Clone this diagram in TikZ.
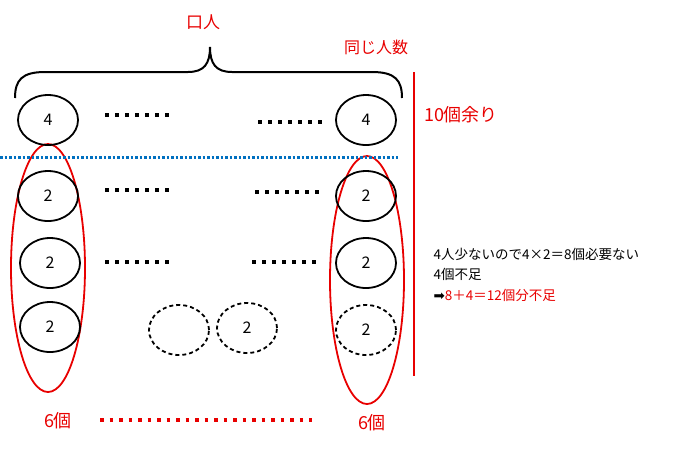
\documentclass[tikz,border=0pt]{standalone}
\usepackage{fontspec}
\setmainfont{Noto Sans CJK JP}
\newfontfamily\symfont{DejaVu Sans}
\usetikzlibrary{shapes.geometric, positioning}
\definecolor{markred}{RGB}{232,0,0}
\definecolor{markblue}{RGB}{0,112,192}
\tikzstyle{ball} = [ellipse, draw, line width=1.8pt, minimum width=60pt, minimum height=50pt, inner sep=0pt, font=\fontsize{16}{16}\selectfont]
\tikzstyle{ghost} = [ball, dash pattern=on 4pt off 3pt]
\tikzstyle{group} = [ellipse, draw=markred, line width=1.8pt, minimum width=74pt, minimum height=248pt]
\tikzstyle{dots} = [line width=3.5pt, dash pattern=on 3.5pt off 6.5pt]
\tikzstyle{redtext} = [text=markred, font=\fontsize{17}{17}\selectfont]
\tikzstyle{note} = [anchor=west, inner ysep=4pt, font=\fontsize{13.5}{13.5}\selectfont]

\begin{document}
\begin{tikzpicture}[x=1pt, y=-1pt]
        \useasboundingbox (0,0) rectangle (678,451);
        % groups of 6
        \node[group] (lgroup) at (48,268) {};
        \node[group] (rgroup) at (367,280) {};
        % top row
        \node[ball] (a1) at (48,120) {4};
        \node[ball] (a2) at (366,120) {4};
        % rows of 2
        \node[ball] (b1) at (48,196) {2};
        \node[ball] (b2) at (366,196) {2};
        \node[ball] (c1) at (50,263) {2};
        \node[ball] (c2) at (366,263) {2};
        \node[ball] (d1) at (50,327) {2};
        \node[ghost] (d2) at (179,330) {};
        \node[ghost] (d3) at (247,328) {2};
        \node[ghost] (d4) at (366,330) {2};
        % dotted gaps
        \draw[dots] (105,115) -- (175,115);
        \draw[dots] (258,122) -- (328,122);
        \draw[dots] (105,190) -- (175,190);
        \draw[dots] (255,192) -- (325,192);
        \draw[dots] (105,262) -- (175,262);
        \draw[dots] (252,262) -- (322,262);
        \draw[dots, markred, line width=3.5pt, dash pattern=on 3.5pt off 6pt] (100,420) -- (312,420);
        \draw[markblue, line width=3pt, dash pattern=on 2.5pt off 2pt] (0,157) -- (398,157);
        % brace
        \draw[line width=2pt] (15,98) .. controls (15,80) and (22,72) .. (45,72) -- (188,72)
            .. controls (204,72) and (210,64) .. (210,47)
            .. controls (210,64) and (216,72) .. (232,72) -- (372,72)
            .. controls (395,72) and (402,80) .. (402,98);
        \draw[markred, line width=2.4pt] (414,72) -- (414,376);
        % labels
        \node[redtext] (people) at (203,22) {口人};
        \node[redtext, font=\fontsize{16}{16}\selectfont] (same) at (376,47) {同じ人数};
        \node[redtext, font=\fontsize{18}{18}\selectfont] (rest) at (461,115) {10個余り};
        \node[redtext, font=\fontsize{18}{18}\selectfont] (six1) at (58,421) {6個};
        \node[redtext, font=\fontsize{18}{18}\selectfont] (six2) at (372,423) {6個};
        \node[note] (n1) at (430,254) {4人少ないので4×2＝8個必要ない};
        \node[note, below=0pt of n1.south west, anchor=north west] (n2) {4個不足};
        \node[note, below=0pt of n2.south west, anchor=north west] (n3) {{\symfont ➡}\textcolor{markred}{8＋4＝12個分不足}};
    \end{tikzpicture}
\end{document}
